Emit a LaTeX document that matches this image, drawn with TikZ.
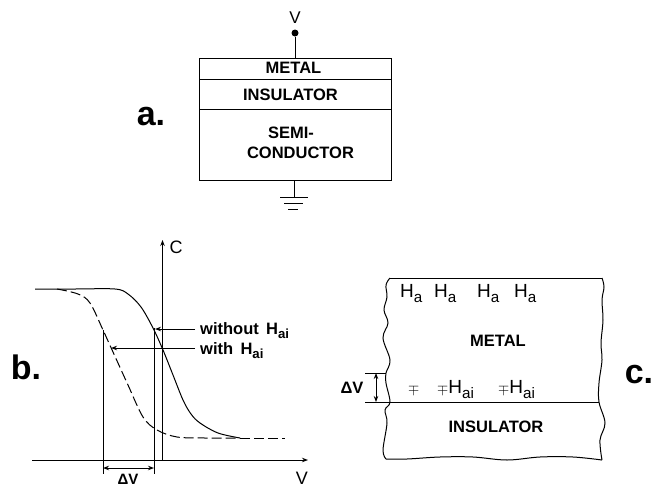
\documentclass[tikz,border=0pt]{standalone}
\usepackage{fontspec}
\setmainfont{Liberation Sans}
\usetikzlibrary{positioning,arrows.meta}

\newcommand{\Hsub}[1]{H\raisebox{-0.3em}{\fontsize{0.8em}{1em}\selectfont #1}}

\tikzset{
    layer/.style={draw, line width=1pt, minimum width=192pt, inner sep=0pt, outer sep=0pt},
    tag/.style={inner sep=0pt, font=\fontsize{34}{34}\selectfont\bfseries},
    lbl/.style={inner sep=0pt, font=\fontsize{16.5}{20}\selectfont\bfseries},
    hatom/.style={inner sep=0pt, anchor=base west, font=\fontsize{19}{22}\selectfont},
    ln/.style={line width=1pt},
    tip/.style={ln, -{Stealth[length=6pt,width=4.5pt]}},
    both/.style={ln, {Stealth[length=6pt,width=4.5pt]}-{Stealth[length=6pt,width=4.5pt]}}
}

\begin{document}
\begin{tikzpicture}[x=1pt, y=-1pt]
    \useasboundingbox (0,0) rectangle (654,488);

    % a
    \node[tag] (taga) at (151,117) {a.};
    \node[layer, minimum height=21pt] (metal) at (295,68.5) {};
    \node[layer, minimum height=30pt, below=0pt of metal] (insulator) {};
    \node[layer, minimum height=71pt, below=0pt of insulator] (semi) {};
    \node[lbl] (metaltext) at (293.5,68) {METAL};
    \node[lbl] (insulatortext) at (290.5,95) {INSULATOR};
    \node[lbl] (semitext) at (291,133) {SEMI-};
    \node[lbl] (condtext) at (300.5,153) {CONDUCTOR};
    \node[circle, fill, inner sep=0pt, minimum size=7pt] (dot) at (295,33) {};
    \node[inner sep=0pt, font=\fontsize{17}{17}\selectfont] (va) at (295,18) {V};
    \coordinate (gnd) at (294,197);
    \coordinate (gnd1l) at (280,197);
    \coordinate (gnd1r) at (308,197);
    \coordinate (gnd2l) at (284,203);
    \coordinate (gnd2r) at (303,203);
    \coordinate (gnd3l) at (288,209);
    \coordinate (gnd3r) at (298,209);
    \draw[ln] (dot) -- (metal.north);
    \draw[ln] (semi.south -| gnd) -- (gnd);
    \draw[ln] (gnd1l) -- (gnd1r);
    \draw[ln] (gnd2l) -- (gnd2r);
    \draw[ln] (gnd3l) -- (gnd3r);

    % b
    \node[tag] (tagb) at (26,367) {b.};
    \coordinate (vstart) at (32,460);
    \coordinate (vend) at (308,460);
    \coordinate (corigin) at (162.5,460);
    \coordinate (cend) at (162.5,240);
    \node[lbl, font=\fontsize{18}{18}\selectfont] (clabel) at (176,247) {C};
    \node[lbl, font=\fontsize{18}{18}\selectfont] (vlabel) at (302,478) {V};
    \draw[tip] (vstart) -- (vend);
    \draw[tip] (corigin) -- (cend);
    \draw[line width=1pt] plot[smooth, tension=0.55] coordinates {(35,289) (75,289) (115,289) (128,294) (141,307) (153,328) (163,350) (173,375) (183,400) (191,414) (200,423) (218,433) (240,438)};
    \draw[line width=1pt, dash pattern=on 10pt off 4pt] (240,438) -- (285,438);
    \draw[line width=1pt, dash pattern=on 10pt off 4pt] plot[smooth, tension=0.55] coordinates {(57,289) (78,294) (90,303) (103,330) (113,352) (128,385) (143,417) (157,430) (177,437) (205,438) (240,438)};
    \node[lbl, anchor=base west] (without) at (200,334) {without\, \Hsub{ai}};
    \node[lbl, anchor=base west] (with) at (200,354) {with\, \Hsub{ai}};
    \coordinate (solidhit) at (155,329);
    \coordinate (dashhit) at (111,348);
    \draw[tip] (195,329) -- (solidhit);
    \draw[tip] (195,348) -- (dashhit);
    \coordinate (dvla) at (103,330);
    \coordinate (dvlb) at (103,474);
    \coordinate (dvra) at (154,328);
    \coordinate (dvrb) at (154,474);
    \coordinate (dvl) at (103,468);
    \coordinate (dvr) at (154,468);
    \draw[ln] (dvla) -- (dvlb);
    \draw[ln] (dvra) -- (dvrb);
    \draw[both] (dvl) -- (dvr);
    \node[lbl, font=\fontsize{15}{15}\selectfont\bfseries] (dvb) at (128,479.5) {ΔV};

    % c
    \node[tag] (tagc) at (639,375) {c.};
    \draw[line width=1pt] plot[smooth, tension=0.6] coordinates {(390,278) (386,285) (387,297) (384,310) (388,323) (383,338) (390,360) (386,373) (386,383) (390,402) (385,410) (387,423) (383,450) (386,459)};
    \draw[line width=1pt] plot[smooth, tension=0.6] coordinates {(386,459) (407,459) (440,457) (473,457) (507,460) (540,457) (573,457) (602,460)};
    \draw[line width=1pt] plot[smooth, tension=0.6] coordinates {(602,278) (604,287) (602,300) (603,320) (601,343) (602,360) (599,383) (599,402) (605,423) (600,440) (602,460)};
    \coordinate (topl) at (390,278);
    \coordinate (topr) at (602,278);
    \coordinate (ifl) at (365,402);
    \coordinate (ifr) at (599,402);
    \coordinate (stepl) at (365,373);
    \coordinate (stepr) at (386,373);
    \coordinate (stepa) at (376,373);
    \coordinate (stepb) at (376,402);
    \draw[ln] (topl) -- (topr);
    \draw[ln] (ifl) -- (ifr);
    \draw[ln] (stepl) -- (stepr);
    \draw[both] (stepa) -- (stepb);
    \node[lbl] (dvc) at (352,388) {ΔV};
    \node[hatom] (ha1) at (400,297) {\Hsub{a}};
    \node[hatom] (ha2) at (434,297) {\Hsub{a}};
    \node[hatom] (ha3) at (477,297) {\Hsub{a}};
    \node[hatom] (ha4) at (514,297) {\Hsub{a}};
    \node[lbl] (metalc) at (498,341) {METAL};
    \node[lbl] (insulatorc) at (496,427) {INSULATOR};
    \node[hatom] (mp1) at (408,393) {$\scriptstyle\mp$};
    \node[hatom] (hai1) at (437,393) {$\scriptstyle\mp$\Hsub{ai}};
    \node[hatom] (hai2) at (498,393) {$\scriptstyle\mp$\Hsub{ai}};
\end{tikzpicture}
\end{document}
